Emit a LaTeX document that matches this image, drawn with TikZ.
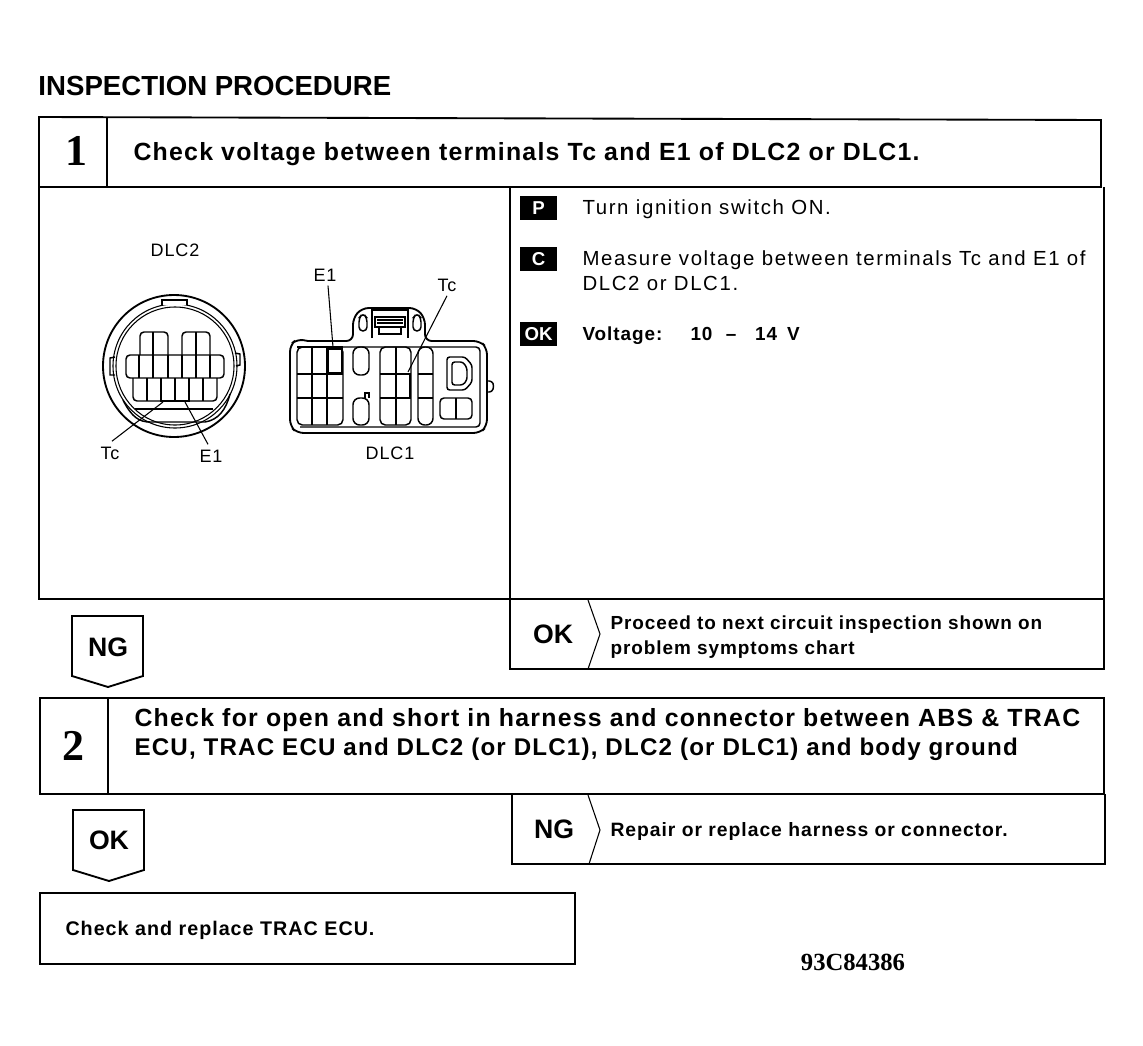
\documentclass[tikz,border=0pt]{standalone}
\usepackage{fontspec}
\setmainfont{Liberation Sans}
\newfontfamily\wideface[LetterSpace=5]{Liberation Sans}
\newfontfamily\widerface[LetterSpace=8]{Liberation Sans}
\newfontfamily\numface{Liberation Serif}
\tikzset{every picture/.style={line width=0.75pt}}
\tikzset{
  heavy/.style={line width=1.4pt},
  wire/.style={line width=0.8pt},
  pin/.style={line width=1.1pt},
  hotpin/.style={line width=2pt},
  stepline/.style={font=\wideface\bfseries\fontsize{18.65}{20}\selectfont,anchor=base west,inner sep=0pt},
  bodyline/.style={font=\widerface\fontsize{15.3}{17}\selectfont,anchor=base west,inner sep=0pt},
  boldline/.style={font=\wideface\bfseries\fontsize{14.2}{17}\selectfont,anchor=base west,inner sep=0pt},
  pinlabel/.style={font=\wideface\fontsize{13.5}{15}\selectfont,inner sep=0pt},
  tagword/.style={font=\bfseries\fontsize{20}{22}\selectfont,inner sep=0pt},
  stepnum/.style={font=\numface\bfseries\fontsize{33}{36}\selectfont,inner sep=0pt},
  badge/.style={fill=black,text=white,font=\bfseries\fontsize{14}{16}\selectfont,minimum width=27.5pt,minimum height=18pt,inner sep=0pt},
}

\begin{document}
\begin{tikzpicture}[x=0.75pt,y=0.75pt,yscale=-1,xscale=1]
\useasboundingbox (0,0) rectangle (1143,1046);

% Title
\draw (38,86) node [anchor=west,inner sep=0pt,font=\bfseries\fontsize{20.7}{24}\selectfont] (title) {INSPECTION PROCEDURE};

% Step 1 frame
\draw [heavy] (39,117) -- (1101,120) -- (1101,187) -- (39,187) -- cycle;
\draw [heavy] (107,117) -- (107,187);
\draw [heavy] (39,187) -- (39,599) -- (510,599);
\draw [heavy] (510,187) -- (510,669) -- (1104,669) -- (1104,187);
\draw [heavy] (510,599) -- (1104,599);
\draw [wire] (588,600) -- (600,634) -- (588,669);

% Step 2 frame
\draw [heavy] (40,698) -- (1104,698) -- (1104,794) -- (40,794) -- cycle;
\draw [heavy] (108,698) -- (108,794);
\draw [heavy] (512,794) -- (512,864) -- (1105,864) -- (1105,794);
\draw [wire] (588,795) -- (600,830) -- (589,864);

% Tags
\draw [heavy] (72,616) -- (143,616) -- (143,676) -- (108,687) -- (72,676) -- cycle;
\draw [heavy] (73,810) -- (144,810) -- (144,870) -- (109,881) -- (73,870) -- cycle;

% Last box
\draw [heavy] (40,893) rectangle (575,964);

% Step texts
\draw (76,151) node [stepnum] (numone) {1};
\draw (133,160) node [stepline] (headone) {Check voltage between terminals Tc and E1 of DLC2 or DLC1.};
\draw (73,746) node [stepnum] (numtwo) {2};
\draw (134,726) node [stepline] (headtwoa) {Check for open and short in harness and connector between ABS \& TRAC};
\draw (134,755) node [stepline,font=\wideface\bfseries\fontsize{18.1}{20}\selectfont] (headtwob) {ECU, TRAC ECU and DLC2 (or DLC1), DLC2 (or DLC1) and body ground};

% Right column
\draw (538.5,208) node [badge] (badgep) {P};
\draw (582,214) node [bodyline] (linep) {Turn ignition switch ON.};
\draw (538.5,259) node [badge] (badgec) {C};
\draw (582,265) node [bodyline] (linec) {Measure voltage between terminals Tc and E1 of};
\draw (582,290) node [bodyline] (lined) {DLC2 or DLC1.};
\draw (538.5,334) node [badge] (badgeok) {OK};
\draw (582,340) node [boldline] (linev) {Voltage:};
\draw (690,340) node [boldline] (linew) {10\hspace{10pt}–\hspace{14pt}14\hspace{3pt} V};

% Results
\draw (108,647) node [tagword] (tagng) {NG};
\draw (109,840) node [tagword] (tagok) {OK};
\draw (553,634) node [tagword] (resok) {OK};
\draw (554,829) node [tagword] (resng) {NG};
\draw (610,629) node [boldline] (resa) {Proceed to next circuit inspection shown on};
\draw (610,654) node [boldline] (resb) {problem symptoms chart};
\draw (610,836) node [boldline,font=\wideface\bfseries\fontsize{14.5}{17}\selectfont] (resc) {Repair or replace harness or connector.};
\draw (65,935) node [boldline,font=\wideface\bfseries\fontsize{14.8}{17}\selectfont] (lastbox) {Check and replace TRAC ECU.};
\draw (853,962) node [inner sep=0pt,font=\numface\bfseries\fontsize{18.5}{20}\selectfont] (code) {93C84386};

% DLC2 connector
\draw (175,250) node [pinlabel] (dlctwo) {DLC2};
\draw (110,453) node [pinlabel] (tcleft) {Tc};
\draw (211,456) node [pinlabel] (eleft) {E1};
\draw [heavy] (174,366) circle (71);
\draw [wire] (175,366) circle (62);
\draw [wire] (175,366) circle (59);
\draw [pin,fill=white] (162,305) -- (162,300) -- (187,300) -- (187,305);
\draw [pin] (115,357) -- (110,358) -- (110,375) -- (115,375);
\draw [pin] (235,353) -- (240,354) -- (240,365) -- (236,366);
\draw [pin,rounded corners=3] (140,355) -- (140,332) -- (168,332) -- (168,355);
\draw [pin,rounded corners=3] (182,355) -- (182,332) -- (210,332) -- (210,355);
\draw [pin] (153,332) -- (153,355) (196,332) -- (196,355);
\draw [pin,rounded corners=3] (126,355) rectangle (224,378);
\foreach \px in {139,153,168,182,196,210} \draw [pin] (\px,355) -- (\px,378);
\draw [pin,rounded corners=3] (133,378) -- (133,401) -- (217,401) -- (217,378);
\foreach \px in {147,175,203} \draw [pin] (\px,378) -- (\px,401);
\draw [hotpin] (161,378) -- (161,401) -- (189,401) -- (189,378);
\draw [pin] (135,409) -- (213,409);
\draw [pin] (123,400) .. controls (132,418) and (140,422) .. (150,422) -- (205,422) .. controls (218,420) and (226,410) .. (230,394);
\coordinate (tcpin) at (163,402);
\coordinate (epin) at (185,402);
\draw [wire] (tcleft.north east) ++(-8,-5) -- (tcpin);
\draw [wire] (eleft.north) ++(-3,-5) -- (epin);

% DLC1 connector
\draw (325,275) node [pinlabel] (eright) {E1};
\draw (447,285) node [pinlabel] (tcright) {Tc};
\draw (390,453) node [pinlabel] (dlcone) {DLC1};
\draw [heavy,rounded corners=5] (308,341) -- (297,339) -- (290,345) -- (290,426) -- (297,433) -- (480,433) -- (487,426) -- (487,348) -- (480,341) -- (425,341) -- (425,318) -- (416,308) -- (362,308) -- (353,318) -- (353,341) -- (308,341);
\draw [pin,rounded corners=3] (297,347) -- (480,347) -- (480,427) -- (300,427);
% pin blocks
\draw [pin,rounded corners=4] (297,347) rectangle (343,425);
\draw [hotpin] (297,347) -- (343,347);
\draw [pin] (312,347) -- (312,425) (327,347) -- (327,425) (297,374) -- (343,374) (297,398) -- (343,398);
\draw [hotpin] (328,349) rectangle (342,373);
\draw [pin,rounded corners=5] (353,347) rectangle (369,375);
\draw [pin,rounded corners=5] (353,398) rectangle (369,425);
\draw [pin] (365,398) -- (365,393) -- (369,393) -- (369,398);
\draw [pin,rounded corners=4] (380,347) rectangle (411,425);
\draw [pin] (396,347) -- (396,425) (380,374) -- (411,374) (380,398) -- (411,398);
\draw [hotpin] (396,374) rectangle (410,398);
\draw [pin,rounded corners=5] (418,347) rectangle (433,425);
\draw [pin] (418,374) -- (433,374) (418,398) -- (433,398);
\draw [pin,rounded corners=2] (447,357) -- (465,357) -- (472,365) -- (472,382) -- (465,390) -- (447,390) -- cycle;
\draw [pin,rounded corners=2] (452,362) -- (463,362) -- (467,368) -- (467,380) -- (463,385) -- (452,385) -- cycle;
\draw [pin,rounded corners=3] (440,398) rectangle (472,419);
\draw [pin] (456,398) -- (456,419);
\draw [pin,rounded corners=2] (487,381) -- (492,381) -- (494,386) -- (492,392) -- (487,392);
% latch
\draw [pin,rounded corners=3] (359,331) -- (359,318) -- (363,313) -- (367,318) -- (367,331) -- cycle;
\draw [pin,rounded corners=3] (421,331) -- (421,318) -- (417,313) -- (413,318) -- (413,331) -- cycle;
\draw [pin] (372,338) -- (372,310) -- (408,310) -- (408,338);
\draw [pin] (375,317) rectangle (405,327);
\draw [pin] (379,327) -- (379,334) -- (401,334) -- (401,327);
\foreach \py in {320,323} \draw [pin] (377,\py) -- (403,\py);
\coordinate (epinr) at (333,347);
\coordinate (tcpinr) at (408,372);
\draw [wire] (eright.south) ++(3,4) -- (epinr);
\draw [wire] (tcright.south) ++(0,4) -- (tcpinr);
\end{tikzpicture}
\end{document}
